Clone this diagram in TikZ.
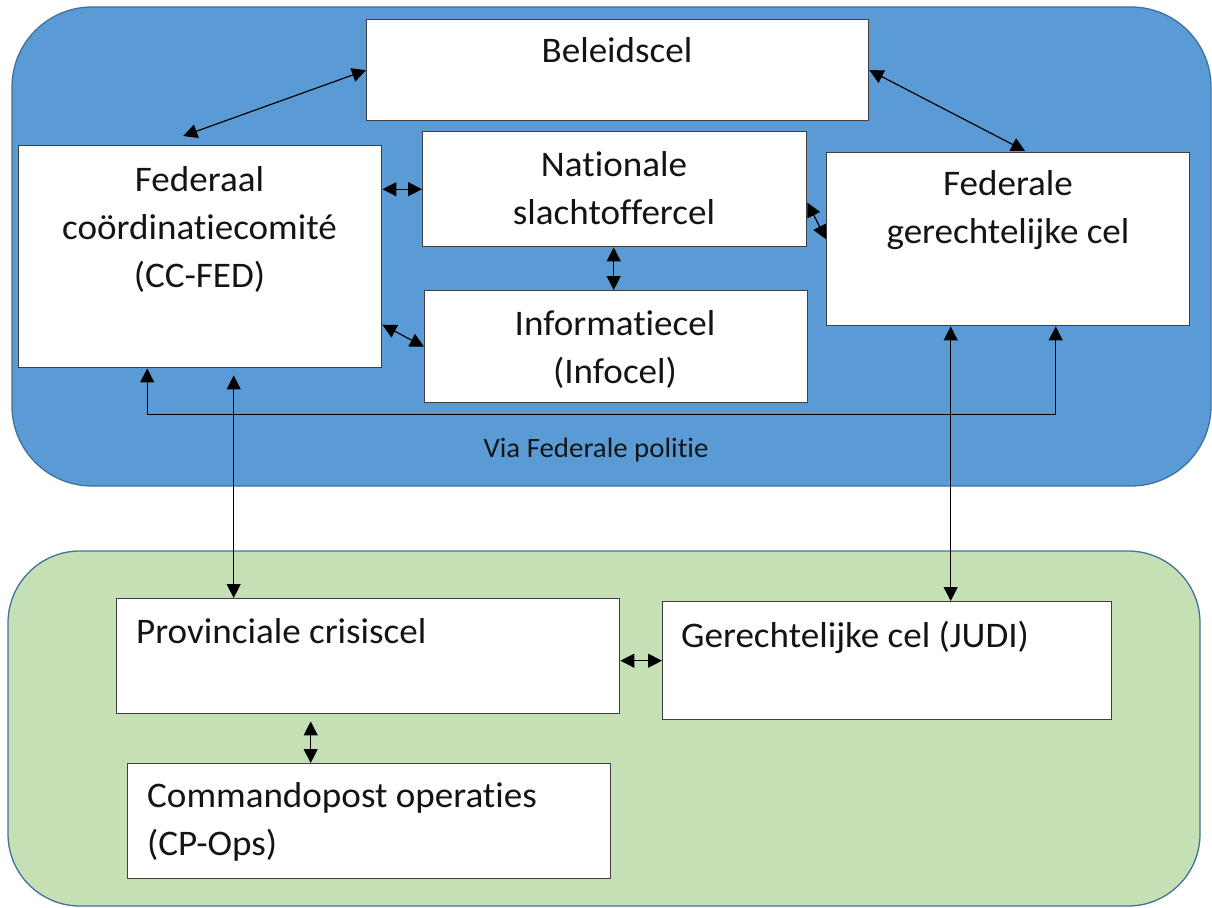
\documentclass[tikz,border=0pt]{standalone}
\usepackage{fontspec}
\setmainfont{Carlito}[Ligatures=NoCommon, FakeStretch=1.03]
\usetikzlibrary{arrows.meta}
\definecolor{bluebg}{HTML}{5B9BD5}
\definecolor{blueedge}{HTML}{41719C}
\definecolor{greenbg}{HTML}{C5E0B4}
\definecolor{boxedge}{HTML}{3F3F3F}
\tikzset{
  cell/.style={draw=boxedge, line width=1.4pt, fill=white, inner sep=0pt, anchor=north west},
  txt/.style={font=\fontsize{36}{48}\selectfont, align=center, inner sep=0pt, anchor=base, text=black!92},
  ltxt/.style={font=\fontsize{36}{48}\selectfont, align=left, inner sep=0pt, anchor=base west, text=black!92},
  stxt/.style={font=\fontsize{28}{34}\selectfont, inner sep=0pt, anchor=base, text=black!92},
  link/.style={line width=1.2pt, {Triangle[length=14pt,width=14pt]}-{Triangle[length=14pt,width=14pt]}},
}
\begin{document}
\begin{tikzpicture}[x=1pt,y=-1pt]
\useasboundingbox (0,0) rectangle (1212,907);
\begin{scope}
\clip (0,0) rectangle (1212,907);
\draw[fill=bluebg, draw=blueedge, line width=1.3pt, rounded corners=80pt] (12,7) rectangle (1211,486);
\draw[fill=greenbg, draw=blueedge, line width=1.3pt, rounded corners=72pt] (8,551) rectangle (1200,906);
\end{scope}

% boxes
\node[cell, minimum width=502pt, minimum height=101pt] (bel) at (366,19) {};
\node[cell, minimum width=363pt, minimum height=222pt] (fed) at (18,145) {};
\node[cell, minimum width=384pt, minimum height=115pt] (nat) at (422,131) {};
\node[cell, minimum width=383pt, minimum height=112pt] (inf) at (424,290) {};
\node[cell, minimum width=363pt, minimum height=173pt] (fgc) at (826,152) {};
\node[cell, minimum width=503pt, minimum height=115pt] (prov) at (116,598) {};
\node[cell, minimum width=449pt, minimum height=118pt] (judi) at (662,601) {};
\node[cell, minimum width=483pt, minimum height=115pt] (cmd) at (127,763) {};

% texts (anchor = baseline of last line)
\node[txt] (belT) at (617,63) {Beleidscel};
\node[txt] (fedT) at (199.5,287) {Federaal\\coördinatiecomité\\(CC-FED)};
\node[txt] (natT) at (614,224) {Nationale\\slachtoffercel};
\node[txt] (infT) at (615,383) {Informatiecel\\(Infocel)};
\node[txt] (fgcT) at (1008,243) {Federale\\gerechtelijke cel};
\node[stxt] (viaT) at (596,457) {Via Federale politie};
\node[ltxt] (provT) at (136,643) {Provinciale crisiscel};
\node[ltxt] (judiT) at (681,647) {Gerechtelijke cel (JUDI)};
\node[ltxt] (cmdT) at (147,855) {Commandopost operaties\\(CP-Ops)};

% connectors
\draw[link] (bel.west) -- ([xshift=-17pt,yshift=9pt]fed.north);
\draw[link] (bel.east) -- ([xshift=17pt,yshift=1pt]fgc.north);
\draw[link] (fed.east |- nat.west) -- (nat.west);
\draw[link] ([yshift=-68pt]fed.east) -- (inf.west);
\draw[link] ([yshift=-13.5pt]nat.east) -- (fgc.west);
\draw[link] ([xshift=-1pt]nat.south) -- ([xshift=-1pt]nat.south |- inf.north);
\draw[link] ([xshift=-53pt]fed.south) -- ++(0,46) -| ([xshift=47.5pt]fgc.south);
\draw[link] ([xshift=33.5pt,yshift=-7pt]fed.south) -- ([xshift=33.5pt]fed.south |- prov.north);
\draw[link] ([xshift=-57.5pt]fgc.south) -- ([xshift=-57.5pt]fgc.south |- judi.north);
\draw[link] (prov.east |- judi.west) -- (judi.west);
\draw[link] ([xshift=-57.5pt,yshift=-7pt]prov.south) -- ([xshift=-57.5pt]prov.south |- cmd.north);
\end{tikzpicture}
\end{document}
